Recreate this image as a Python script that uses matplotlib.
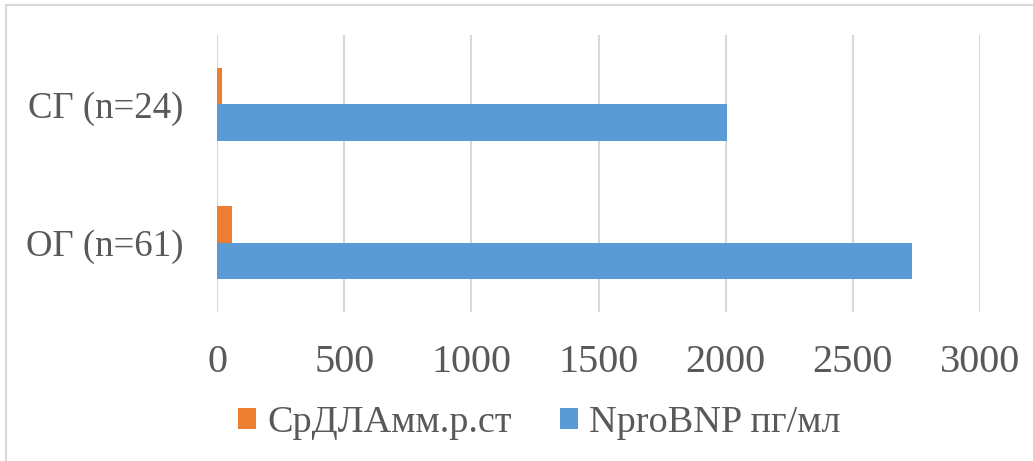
import matplotlib.pyplot as plt
import numpy as np
from matplotlib.patches import Rectangle

plt.rcParams['font.family'] = ['Liberation Serif', 'DejaVu Serif']

# Data
groups = ['ОГ (n=61)', 'СГ (n=24)']
pressure = [59, 21]          # СрДЛА, мм рт. ст.
ntprobnp = [2732, 2005]      # NproBNP, пг/мл
series_names = ['СрДЛАмм.р.ст', 'NproBNP пг/мл']

text_color = '#595959'
grid_color = '#d9d9d9'
orange = '#ED7D31'
blue = '#5B9BD5'

fig = plt.figure(figsize=(10.33, 4.61), dpi=100)
ax = fig.add_axes([0.2101, 0.3232, 0.7386, 0.6009])

y = np.arange(len(groups))
h = 0.2635
ax.barh(y + h / 2, pressure, height=h, color=orange, label=series_names[0])
ax.barh(y - h / 2, ntprobnp, height=h, color=blue, label=series_names[1])

ax.set_xlim(0, 3000)
ax.set_ylim(-0.5, 1.5)
ax.set_xticks(range(0, 3001, 500))
ax.set_yticks(y)
ax.set_yticklabels(groups)

ax.grid(True, axis='x', color=grid_color, linewidth=1.5)
ax.set_axisbelow(True)
for s in ax.spines.values():
    s.set_visible(False)
ax.tick_params(axis='both', length=0, colors=text_color)
ax.tick_params(axis='x', labelsize=29, pad=23)
ax.tick_params(axis='y', labelsize=26.5, pad=24)

leg = fig.legend(loc='center', bbox_to_anchor=(0.522, 0.083), ncol=2,
                 frameon=False, fontsize=27.5, handlelength=0.47,
                 handleheight=0.5, handletextpad=0.3, columnspacing=1.25,
                 labelcolor=text_color)

# outer chart border
fig.add_artist(Rectangle((0.006, -0.01), 0.999, 1.0, transform=fig.transFigure,
                         fill=False, edgecolor=grid_color, linewidth=1.5))

fig.savefig('out.png', dpi=100)
